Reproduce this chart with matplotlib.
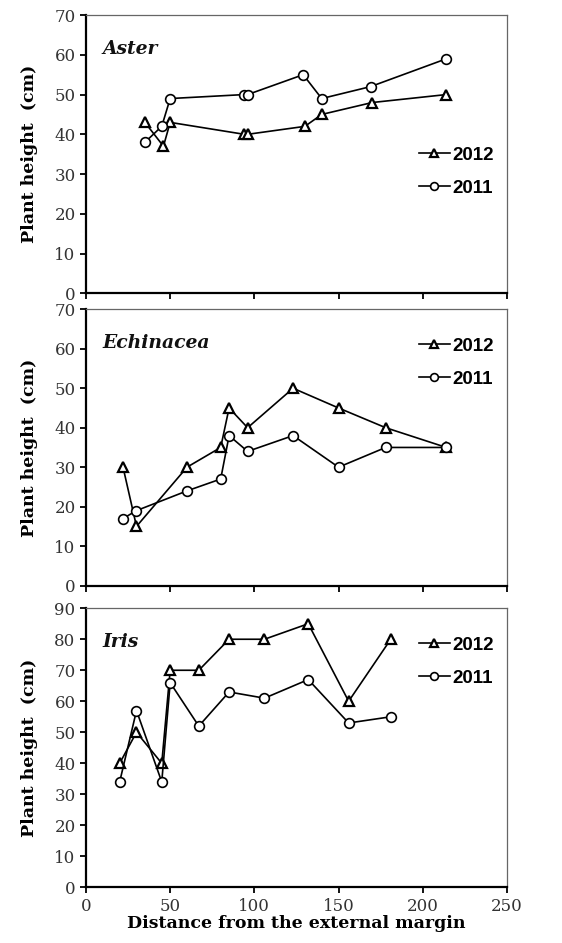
import matplotlib.pyplot as plt

# Aster
aster_x12 = [35, 46, 50, 94, 96, 130, 140, 170, 214]
aster_y12 = [43, 37, 43, 40, 40, 42, 45, 48, 50]
aster_x11 = [35, 45, 50, 94, 96, 129, 140, 169, 214]
aster_y11 = [38, 42, 49, 50, 50, 55, 49, 52, 59]

# Echinacea
echi_x12 = [22, 30, 60, 80, 85, 96, 123, 150, 178, 214]
echi_y12 = [30, 15, 30, 35, 45, 40, 50, 45, 40, 35]
echi_x11 = [22, 30, 60, 80, 85, 96, 123, 150, 178, 214]
echi_y11 = [17, 19, 24, 27, 38, 34, 38, 30, 35, 35]

# Iris
iris_x12 = [20, 30, 45, 50, 67, 85, 106, 132, 156, 181]
iris_y12 = [40, 50, 40, 70, 70, 80, 80, 85, 60, 80]
iris_x11 = [20, 30, 45, 50, 67, 85, 106, 132, 156, 181]
iris_y11 = [34, 57, 34, 66, 52, 63, 61, 67, 53, 55]

names = ['Aster', 'Echinacea', 'Iris']
ymaxes = [70, 70, 90]
panels = [(aster_x12, aster_y12, aster_x11, aster_y11),
          (echi_x12, echi_y12, echi_x11, echi_y11),
          (iris_x12, iris_y12, iris_x11, iris_y11)]

# axes boxes in figure fractions [left, bottom, width, height]
boxes = [[0.153, 0.689, 0.749, 0.295],
         [0.153, 0.379, 0.749, 0.293],
         [0.153, 0.059, 0.749, 0.296]]
leg_anchor = [(1.0, 0.575), (1.0, 0.945), (1.0, 0.945)]

serif = 'DejaVu Serif'
fig = plt.figure(figsize=(5.62, 9.43), dpi=100)

for i in range(3):
    ax = fig.add_axes(boxes[i])
    x12, y12, x11, y11 = panels[i]
    ax.plot(x12, y12, color='black', lw=1.2, marker='^', ms=7, mfc='white',
            mec='black', mew=1.6, label='2012')
    ax.plot(x11, y11, color='black', lw=1.2, marker='o', ms=7, mfc='white',
            mec='black', mew=1.2, label='2011')
    ax.set_xlim(0, 250)
    ax.set_ylim(0, ymaxes[i])
    ax.set_yticks(range(0, ymaxes[i] + 1, 10))
    ax.set_xticks(range(0, 251, 50))
    ax.tick_params(direction='out', length=4, width=1.3, colors='black',
                   labelcolor='#333333', labelsize=12)
    for lab in ax.get_yticklabels() + ax.get_xticklabels():
        lab.set_family(serif)
    if i < 2:
        ax.tick_params(axis='x', labelbottom=False)
    for s in ['left', 'bottom']:
        ax.spines[s].set_linewidth(1.6)
        ax.spines[s].set_color('black')
    for s in ['top', 'right']:
        ax.spines[s].set_linewidth(0.9)
        ax.spines[s].set_color('#666666')
    ax.set_ylabel('Plant height  (cm)', family=serif, fontweight='bold',
                  fontsize=12.5, labelpad=12)
    ax.text(0.04, 0.86, names[i], transform=ax.transAxes, family=serif,
            fontweight='bold', style='italic', fontsize=13.5, color='#111111')
    ax.legend(loc='upper right', bbox_to_anchor=leg_anchor[i], frameon=False,
              handlelength=1.7, handletextpad=0.1, markerscale=0.8,
              labelspacing=0.85, borderaxespad=0.3,
              prop={'family': 'Liberation Sans', 'weight': 'bold', 'size': 13.5})

ax.set_xlabel('Distance from the external margin', family=serif,
              fontweight='bold', fontsize=12.5, labelpad=0)

fig.savefig('out.png', dpi=100)
